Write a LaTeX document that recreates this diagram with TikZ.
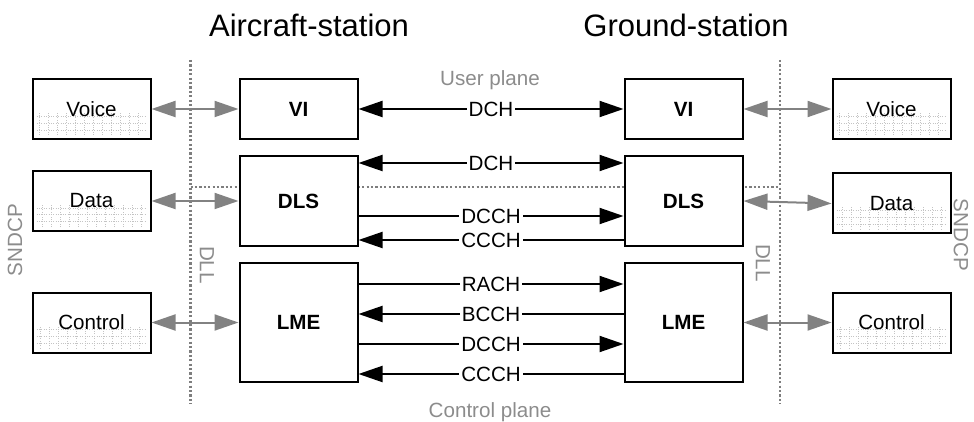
\documentclass[tikz,border=0pt]{standalone}
\usepackage{fontspec}
\setmainfont{Liberation Sans}
\usepackage{tikz}
\usetikzlibrary{arrows.meta,positioning}
\definecolor{lgray}{HTML}{8C8C8C}
\definecolor{agray}{HTML}{828282}
\definecolor{dgray}{HTML}{C4C4C4}
\newcommand{\labfont}{\fontsize{10.3pt}{12pt}\selectfont}
\tikzset{
  >={Triangle[length=12pt,width=8pt]},
  box/.style={draw=black,line width=1pt,fill=white,inner sep=0pt,minimum width=59pt,minimum height=30pt,font=\labfont\bfseries,align=center},
  ubox/.style={box,font=\labfont,
    path picture={\draw[dgray,line width=0.4pt,dash pattern=on 0.4pt off 0.8pt,xstep=4.5pt,ystep=3.4pt]
      ([xshift=2pt,yshift=-2pt]path picture bounding box.west) grid ([xshift=-2pt,yshift=2pt]path picture bounding box.south east);}},
  chan/.style={draw=black,line width=1pt},
  chlab/.style={fill=white,inner sep=1pt,font=\labfont},
  garr/.style={<->,draw=agray,line width=1pt},
  sep/.style={draw=lgray!90!black,line width=1.2pt,dash pattern=on 1.1pt off 1.1pt},
  glab/.style={font=\labfont,text=lgray,inner sep=0pt},
  title/.style={font=\fontsize{15.5pt}{18pt}\selectfont,inner sep=0pt},
}
\begin{document}
\begin{tikzpicture}[x=0.5pt,y=-0.5pt,node distance=7.5pt]
\useasboundingbox (0,0) rectangle (974,422);
% layer borders
\coordinate (sepAtop) at (190.5,60);
\coordinate (sepAbot) at (190.5,404);
\coordinate (sepGtop) at (780,60);
\coordinate (sepGbot) at (780,404);
\coordinate (planeA) at (190.5,187);
\coordinate (planeG) at (780,187);
\draw[sep] (sepAtop) -- (sepAbot);
\draw[sep] (sepGtop) -- (sepGbot);
\draw[sep] (planeA) -- (planeG);
% stations
\node[title,anchor=base] (acTitle) at (309,37) {Aircraft-station};
\node[title,anchor=base] (gsTitle) at (686,37) {Ground-station};
% aircraft side DLL
\node[box] (viA) at (298.5,109) {VI};
\node[box,minimum height=45pt,below=of viA] (dlsA) {DLS};
\node[box,minimum height=59.5pt,below=of dlsA] (lmeA) {LME};
% ground side DLL
\node[box,right=132.5pt of viA] (viG) {VI};
\node[box,minimum height=45pt,right=132.5pt of dlsA] (dlsG) {DLS};
\node[box,minimum height=59.5pt,right=132.5pt of lmeA] (lmeG) {LME};
% SNDCP boxes
\node[ubox,left=43.5pt of viA] (voiceA) {Voice};
\node[ubox,left=43.5pt of dlsA] (dataA) {Data};
\node[ubox,left=43.5pt of lmeA] (ctrlA) {Control};
\node[ubox,right=44pt of viG] (voiceG) {Voice};
\node[ubox,right=44pt of dlsG,yshift=-1.25pt] (dataG) {Data};
\node[ubox,right=44pt of lmeG] (ctrlG) {Control};
\draw[garr] (voiceA) -- (viA);
\draw[garr] (dataA) -- (dlsA);
\draw[garr] (ctrlA) -- (lmeA);
\draw[garr] (viG) -- (voiceG);
\draw[garr] (dlsG.east) -- (dataG.west);
\draw[garr] (lmeG) -- (ctrlG);
% channels
\draw[chan,<->] (viA) -- node[chlab]{DCH} (viG);
\draw[chan,<->] ([yshift=-4pt]dlsA.north east) -- node[chlab]{DCH} ([yshift=-4pt]dlsG.north west);
\draw[chan,->] ([yshift=-30.5pt]dlsA.north east) -- node[chlab]{DCCH} ([yshift=-30.5pt]dlsG.north west);
\draw[chan,<-] ([yshift=3.5pt]dlsA.south east) -- node[chlab]{CCCH} ([yshift=3.5pt]dlsG.south west);
\draw[chan,->] ([yshift=-11pt]lmeA.north east) -- node[chlab]{RACH} ([yshift=-11pt]lmeG.north west);
\draw[chan,<-] ([yshift=-26pt]lmeA.north east) -- node[chlab]{BCCH} ([yshift=-26pt]lmeG.north west);
\draw[chan,->] ([yshift=-41pt]lmeA.north east) -- node[chlab]{DCCH} ([yshift=-41pt]lmeG.north west);
\draw[chan,<-] ([yshift=-56pt]lmeA.north east) -- node[chlab]{CCCH} ([yshift=-56pt]lmeG.north west);
% plane and layer names
\node[glab,anchor=base] (userPl) at (490,86) {User plane};
\node[glab,anchor=base] (ctrlPl) at (490,417) {Control plane};
\node[glab,rotate=90] (sndcpA) at (15,240) {SNDCP};
\node[glab,rotate=-90] (sndcpG) at (961,235) {SNDCP};
\node[glab,rotate=-90] (dllA) at (207,265) {DLL};
\node[glab,rotate=-90] (dllG) at (763,263) {DLL};
\end{tikzpicture}
\end{document}
